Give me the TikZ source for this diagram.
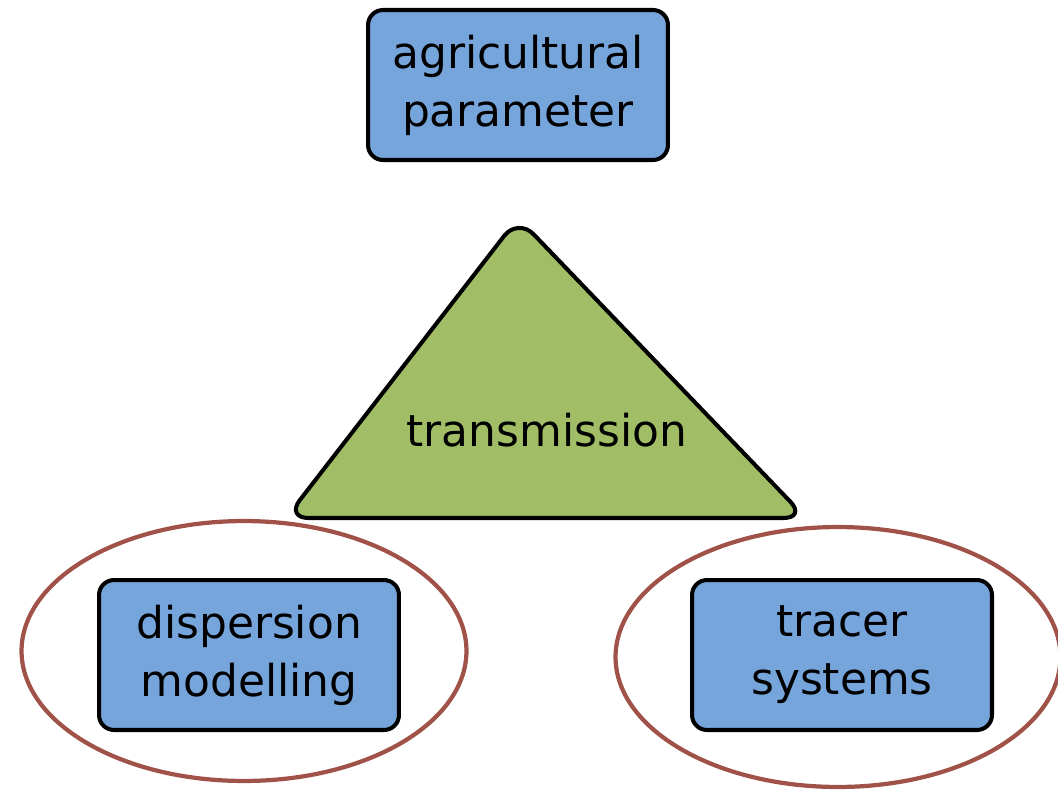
\documentclass[tikz,border=0pt]{standalone}
\usepackage{fontspec}
\setmainfont{DejaVu Sans}
\usetikzlibrary{shapes.geometric}
\definecolor{boxblue}{RGB}{118,165,220}
\definecolor{trigreen}{RGB}{161,190,102}
\definecolor{ringred}{RGB}{160,82,72}
\begin{document}
\begin{tikzpicture}[
                x = 0.02cm, y = -0.02cm,
                box/.style = {draw, line width = 2.3pt, rounded corners = 0.3cm, fill = boxblue,
                              minimum width = 6cm, minimum height = 3cm, align = center,
                              font = \fontsize{25}{33}\selectfont},
                ring/.style = {draw = ringred, line width = 2.4pt, ellipse,
                               minimum width = 8.9cm, minimum height = 5.2cm},
                tri/.style = {draw, line width = 2.3pt, rounded corners = 0.45cm, fill = trigreen},
                lbl/.style = {font = \fontsize{25}{33}\selectfont},
            ]
            \useasboundingbox (0,0) rectangle (1058,791);

            \node (ringl) [ring] at (244,651) {};
            \node (ringr) [ring] at (838,657) {};

            \node (agri) [box] at (518,85) {agricultural\\parameter};
            \node (disp) [box] at (249,655) {dispersion\\modelling};
            \node (trac) [box] at (842,655) {tracer\\systems};

            \coordinate (apex) at (518,218);
            \coordinate (bl) at (286,518);
            \coordinate (br) at (806,518);
            \path[tri] (apex) -- (br) -- (bl) -- cycle;
            \node (trans) [lbl] at (547,430) {transmission};
        \end{tikzpicture}
\end{document}
